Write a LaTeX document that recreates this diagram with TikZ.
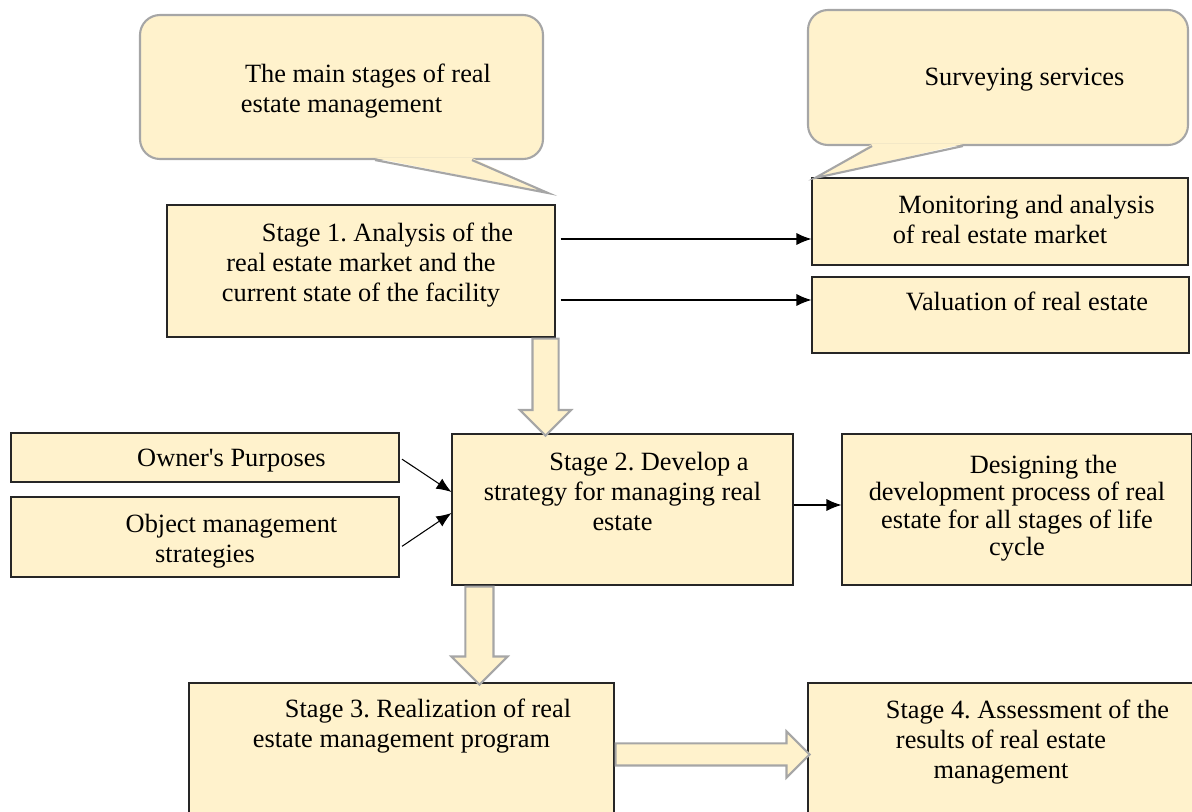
\documentclass[tikz,border=0pt]{standalone}
\usepackage{fontspec}
\setmainfont{Liberation Serif}
\usepackage{tikz}
\usetikzlibrary{arrows.meta, shapes.arrows, calc}
\definecolor{BoxFill}{RGB}{255,242,204}
\definecolor{FrameGray}{RGB}{166,166,166}
\newcommand{\firstind}{\hspace*{1.06cm}}
\frenchspacing
\tikzset{stagebox/.style={rectangle, fill=BoxFill, draw=black!85, inner sep=0pt}}
\tikzset{boxtext/.style={align=center, anchor=north, inner sep=0pt, font=\fontsize{15}{17.07}\selectfont}}
\tikzset{bubble/.style={rectangle, rounded corners=0.4cm, fill=BoxFill, draw=FrameGray, line width=1.2pt, inner sep=0pt}}
\tikzset{next/.style={-{Latex[length=0.3cm, width=0.24cm]}}}
\tikzset{fat/.style={single arrow, anchor=tail, fill=BoxFill, draw=FrameGray, line width=1.2pt, inner xsep=0pt, single arrow tip angle=90}}
\tikzset{tail/.style={draw=FrameGray, line width=1.2pt}}

\begin{document}
\begin{tikzpicture}[line width=0.6pt]
  \useasboundingbox (0,0) rectangle (23.84,-16.22);

  % --- boxes ---
  \node[stagebox, minimum width=7.76cm, minimum height=2.64cm] (s1) at (7.22,-5.42) {};
  \node[stagebox, minimum width=7.52cm, minimum height=1.74cm] (mon) at (20.00,-4.43) {};
  \node[stagebox, minimum width=7.54cm, minimum height=1.52cm] (val) at (20.01,-6.30) {};
  \node[stagebox, minimum width=7.76cm, minimum height=0.98cm] (own) at (4.10,-9.15) {};
  \node[stagebox, minimum width=7.76cm, minimum height=1.60cm] (obj) at (4.10,-10.74) {};
  \node[stagebox, minimum width=6.82cm, minimum height=3.02cm] (s2) at (12.45,-10.19) {};
  \node[stagebox, minimum width=7.00cm, minimum height=3.02cm] (des) at (20.34,-10.19) {};
  \node[stagebox, minimum width=8.50cm, minimum height=2.94cm] (s3) at (8.03,-15.13) {};
  \node[stagebox, minimum width=7.72cm, minimum height=2.94cm] (s4) at (20.02,-15.13) {};

  % --- fat arrows between stages ---
  \node[fat, rotate=-90, minimum height=1.94cm, inner ysep=0.24cm, single arrow head extend=0.25cm] (f12)
    at ([xshift=-0.2cm]s1.south east) {};
  \node[fat, rotate=-90, minimum height=1.96cm, inner ysep=0.26cm, single arrow head extend=0.28cm] (f23)
    at ([xshift=0.56cm]s2.south west) {};
  \node[fat, minimum height=3.88cm, inner ysep=0.2cm, single arrow head extend=0.24cm] (f34)
    at ([yshift=-1.44cm]s3.north east) {};

  % --- callouts ---
  \node[bubble, minimum width=8.06cm, minimum height=2.88cm] (callA) at (6.83,-1.74) {};
  \coordinate (tipA) at (10.96,-3.86);
  \fill[BoxFill] ($(callA.south)+(0.67,0.04)$) -- (tipA) -- ($(callA.south)+(2.61,0.04)$) -- cycle;
  \draw[tail] ($(callA.south)+(0.67,0)$) -- (tipA) -- ($(callA.south)+(2.61,0)$);

  \node[bubble, minimum width=7.6cm, minimum height=2.7cm] (callB) at (19.96,-1.55) {};
  \coordinate (tipB) at (16.30,-3.56);
  \fill[BoxFill] ($(callB.south)+(-2.52,0.04)$) -- (tipB) -- ($(callB.south)+(-0.70,0.04)$) -- cycle;
  \draw[tail] ($(callB.south)+(-2.52,0)$) -- (tipB) -- ($(callB.south)+(-0.70,0)$);

  % --- texts ---
  \node[boxtext] (callAtxt) at ([yshift=-0.98cm]callA.north) {\firstind The main stages of real\\estate management};
  \node[boxtext] (callBtxt) at ([yshift=-1.18cm]callB.north) {\firstind Surveying services};
  \node[boxtext] (s1txt) at ([yshift=-0.36cm]s1.north) {\firstind Stage 1. Analysis of the\\real estate market and the\\current state of the facility};
  \node[boxtext] (montxt) at ([yshift=-0.34cm]mon.north) {\firstind Monitoring and analysis\\of real estate market};
  \node[boxtext] (valtxt) at ([yshift=-0.30cm]val.north) {\firstind Valuation of real estate};
  \node[boxtext] (owntxt) at ([yshift=-0.32cm]own.north) {\firstind Owner\textquotesingle s Purposes};
  \node[boxtext] (objtxt) at ([yshift=-0.34cm]obj.north) {\firstind Object management\\strategies};
  \node[boxtext] (s2txt) at ([yshift=-0.36cm]s2.north) {\firstind Stage 2. Develop a\\strategy for managing real\\estate};
  \node[boxtext, font=\fontsize{15}{15.65}\selectfont] (destxt) at ([yshift=-0.42cm]des.north)
    {\firstind Designing the\\development process of real\\estate for all stages of life\\cycle};
  \node[boxtext] (s3txt) at ([yshift=-0.32cm]s3.north) {\firstind Stage 3. Realization of real\\estate management program};
  \node[boxtext] (s4txt) at ([yshift=-0.34cm]s4.north) {\firstind Stage 4. Assessment of the\\results of real estate\\management};

  % --- thin arrows ---
  \draw[next, shorten <=0.1cm] ([yshift=0.64cm]s1.east) -- ([yshift=0.64cm]s1.east -| mon.west);
  \draw[next, shorten <=0.1cm] ([yshift=-0.58cm]s1.east) -- ([yshift=-0.58cm]s1.east -| val.west);
  \draw[next, shorten <=0.06cm] (own.east) -- ([yshift=0.35cm]s2.west);
  \draw[next, shorten <=0.06cm] ([yshift=-0.22cm]obj.east) -- ([yshift=-0.07cm]s2.west);
  \draw[next] ([yshift=0.09cm]s2.east) -- ([yshift=0.09cm]s2.east -| des.west);

\end{tikzpicture}
\end{document}
